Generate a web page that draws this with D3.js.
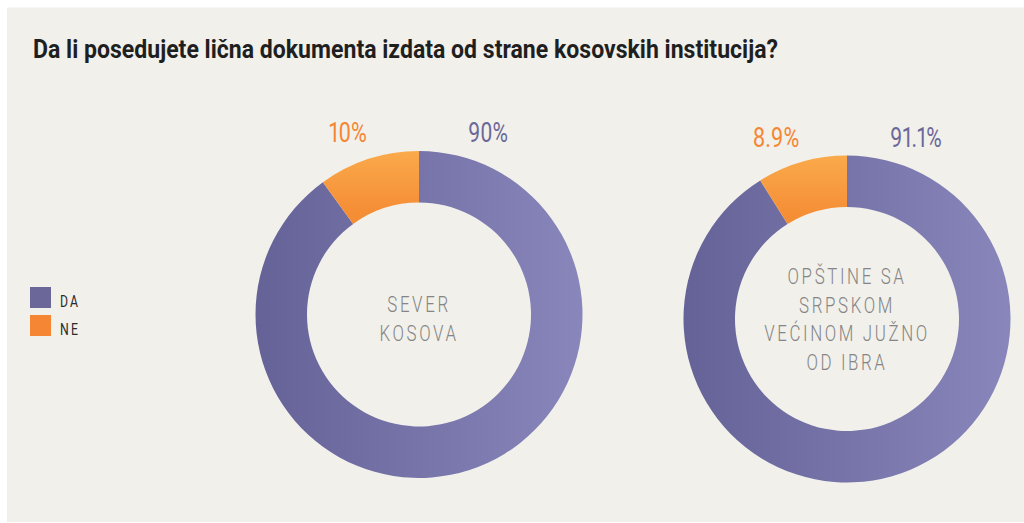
<!DOCTYPE html>
<html>
<head>
<meta charset="utf-8">
<script src="https://cdn.jsdelivr.net/npm/d3@7"></script>
<style>
  html, body { margin: 0; padding: 0; background: #ffffff; }
  svg { display: block; }
  .pct { font-variant-numeric: proportional-nums; font-feature-settings: "pnum" 1; }
</style>
</head>
<body>
<svg id="chart" width="1024" height="523"></svg>
<script>
// ---- data ----
const title = "Da li posedujete lična dokumenta izdata od strane kosovskih institucija?";
const categories = ["DA", "NE"];
const regions = ["SEVER KOSOVA", "OPŠTINE SA SRPSKOM VEĆINOM JUŽNO OD IBRA"];
const regionLines = [["SEVER", "KOSOVA"], ["OPŠTINE SA", "SRPSKOM", "VEĆINOM JUŽNO", "OD IBRA"]];
const valuesDA = [90, 91.1];
const valuesNE = [10, 8.9];
const labelsDA = ["90%", "91.1%"];
const labelsNE = ["10%", "8.9%"];

// ---- layout ----
const svg = d3.select("#chart");
const W = 1024, H = 523;
const font = "Roboto, 'Noto Sans', sans-serif";
const defs = svg.append("defs");

svg.append("rect").attr("x", 7).attr("y", 7.5).attr("width", W - 7).attr("height", 514.5)
  .attr("fill", "#f1f0eb");

function condense(sel, k) {
  sel.each(function() {
    const len = this.getComputedTextLength();
    d3.select(this).attr("textLength", len * k).attr("lengthAdjust", "spacingAndGlyphs");
  });
}

// title
svg.append("text").attr("x", 33).attr("y", 57.5)
  .attr("font-family", font).attr("font-weight", 700).attr("font-size", 25)
  .attr("fill", "#1f1f1f").text(title)
  .call(s => s.attr("textLength", 745).attr("lengthAdjust", "spacingAndGlyphs"));

const color = d3.scaleOrdinal().domain(categories).range(["#6b6899", "#f58634"]);

// legend
const legend = svg.append("g");
const ly = d3.scalePoint().domain(categories).range([287, 315]);
categories.forEach(c => {
  legend.append("rect").attr("x", 30).attr("y", ly(c)).attr("width", 21).attr("height", 21)
    .attr("fill", color(c));
  legend.append("text").attr("x", 60).attr("y", ly(c) + 19.5)
    .attr("font-family", font).attr("font-size", 17).attr("letter-spacing", 3)
    .attr("fill", "#2b2b2b").text(c).call(condense, 0.72);
});

// donuts
const centers = [{cx: 419, cy: 314.5, ty: 4}, {cx: 847, cy: 319, ty: 0}];
const R = 163.5, r = 112;
const pie = d3.pie().sort(null).value(d => d.value);
const arc = d3.arc().innerRadius(r).outerRadius(R);

// gradients in the donut's local (translated) coordinates
const gp = defs.append("linearGradient").attr("id", "gp")
  .attr("gradientUnits", "userSpaceOnUse")
  .attr("x1", -R).attr("x2", R).attr("y1", 0).attr("y2", 0);
gp.append("stop").attr("offset", "0%").attr("stop-color", "#656297");
gp.append("stop").attr("offset", "100%").attr("stop-color", "#8986bb");
const go = defs.append("linearGradient").attr("id", "go")
  .attr("gradientUnits", "userSpaceOnUse")
  .attr("x1", 0).attr("x2", 0).attr("y1", -R).attr("y2", -r + 10);
go.append("stop").attr("offset", "0%").attr("stop-color", "#faaa4b");
go.append("stop").attr("offset", "100%").attr("stop-color", "#f58d35");

regions.forEach((reg, i) => {
  const {cx, cy, ty} = centers[i];
  const data = [{key: "DA", value: valuesDA[i]}, {key: "NE", value: valuesNE[i]}];
  const g = svg.append("g").attr("transform", `translate(${cx},${cy})`);
  g.selectAll("path").data(pie(data)).join("path")
    .attr("d", arc)
    .attr("fill", d => d.data.key === "DA" ? "url(#gp)" : "url(#go)");

  // percentage labels
  g.append("text").attr("class", "pct").attr("x", -71).attr("y", -172.5).attr("text-anchor", "middle")
    .attr("font-family", font).attr("font-size", 27).attr("fill", "#f58634")
    .text(labelsNE[i]).call(condense, 0.8);
  g.append("text").attr("class", "pct").attr("x", 69).attr("y", -172.5).attr("text-anchor", "middle")
    .attr("font-family", font).attr("font-size", 27).attr("fill", "#6b6899")
    .text(labelsDA[i]).call(condense, 0.78);

  // center label
  const lines = regionLines[i];
  const lh = 28.7;
  const y0 = -((lines.length - 1) * lh) / 2 + 8 + ty;
  lines.forEach((ln, j) => {
    g.append("text").attr("x", 0).attr("y", y0 + j * lh).attr("text-anchor", "middle")
      .attr("font-family", font).attr("font-weight", 300).attr("font-size", 22.5)
      .attr("letter-spacing", 3.5).attr("fill", "#858585")
      .text(ln).call(condense, 0.75);
  });
});
</script>
</body>
</html>
